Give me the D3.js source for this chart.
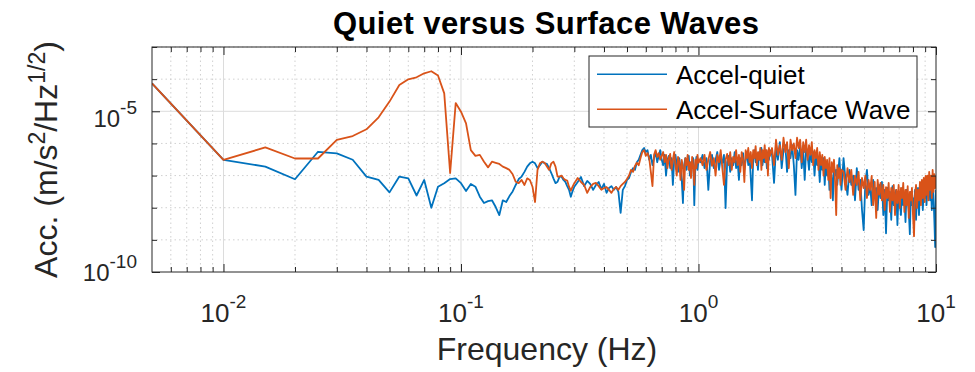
<!DOCTYPE html>
<html><head><meta charset="utf-8">
<script src="https://cdn.jsdelivr.net/npm/d3@7"></script>
<style>
body{margin:0;background:#fff}
svg{display:block}
text{font-family:"Liberation Sans",Arial,Helvetica,sans-serif}
</style>
</head><body>
<svg id="chart" width="975" height="372"></svg>
<script>
// ---------- data ----------
const title = "Quiet versus Surface Waves";
const xLabel = "Frequency (Hz)";
const seriesNames = ["Accel-quiet", "Accel-Surface Wave"];
const xTickValues = [0.01, 0.1, 1, 10];
const xTickExponents = ["-2", "-1", "0", "1"];
const yTickValues = [1e-10, 1e-5];
const yTickExponents = ["-10", "-5"];

const freqLow = [0.005,0.01,0.015,0.02,0.025,0.03,0.035,0.04,0.045,0.05,0.055,0.06,0.065,0.07,0.075,0.08,0.085,0.09,0.095,0.1,
0.105,0.11,0.115,0.12,0.125,0.13,0.135,0.14,0.145,0.15,0.155,0.16,0.165,0.17,0.175,0.18,0.185,0.19,0.195,0.2,
0.205,0.21,0.215,0.22,0.225,0.23,0.235,0.24,0.245,0.25,0.255,0.26,0.265,0.27,0.275,0.28,0.285,0.29,0.295,0.3];
const freqMid = [0.31,0.32,0.33,0.34,0.35,0.36,0.37,0.38,0.39,0.4,0.41,0.42,0.43,0.44,0.45,0.46,0.47,0.48,0.49,0.5,
0.51,0.52,0.53,0.54,0.55,0.56,0.57,0.58,0.59,0.6,0.61,0.62,0.63,0.64,0.65,0.66,0.67,0.68,0.69,0.7,
0.71,0.72,0.73,0.74,0.75,0.76,0.77,0.78,0.79,0.8,0.81,0.82,0.83,0.84,0.85,0.86,0.87,0.88,0.89,0.9,
0.91,0.92,0.93,0.94,0.95,0.96,0.97,0.98,0.99,1];
const freqHigh = [1.02,1.04,1.06,1.08,1.1,1.12,1.14,1.16,1.18,1.2,1.22,1.24,1.26,1.28,1.3,1.32,1.34,1.36,1.38,1.4,
1.42,1.44,1.46,1.48,1.5,1.52,1.54,1.56,1.58,1.6,1.62,1.64,1.66,1.68,1.7,1.72,1.74,1.76,1.78,1.8,
1.82,1.84,1.86,1.88,1.9,1.92,1.94,1.96,1.98,2,
2.04,2.08,2.12,2.16,2.2,2.24,2.28,2.32,2.36,2.4,2.44,2.48,2.52,2.56,2.6,2.64,2.68,2.72,2.76,2.8,
2.84,2.88,2.92,2.96,3,3.04,3.08,3.12,3.16,3.2,3.24,3.28,3.32,3.36,3.4,3.44,3.48,3.52,3.56,3.6,
3.64,3.68,3.72,3.76,3.8,3.84,3.88,3.92,3.96,4,
4.08,4.16,4.24,4.32,4.4,4.48,4.56,4.64,4.72,4.8,4.88,4.96,5.04,5.12,5.2,5.28,5.36,5.44,5.52,5.6,
5.68,5.76,5.84,5.92,6,6.08,6.16,6.24,6.32,6.4,6.48,6.56,6.64,6.72,6.8,6.88,6.96,7.04,7.12,7.2,
7.28,7.36,7.44,7.52,7.6,7.68,7.76,7.84,7.92,8,8.08,8.16,8.24,8.32,8.4,8.48,8.56,8.64,8.72,8.8,
8.88,8.96,9.04,9.12,9.2,9.28,9.36,9.44,9.52,9.6,9.68,9.76,9.84,9.92,10];

const quietLow = [7.4e-5,3.1e-7,1.9e-7,7.7e-8,5.5e-7,4.9e-7,3.1e-7,9.3e-8,7.3e-8,3.0e-8,
9.3e-8,8.2e-8,2.4e-8,7.3e-8,1.0e-8,4.5e-8,5.8e-8,7.8e-8,8.2e-8,5.8e-8,
3.3e-8,5.5e-8,4.5e-8,2.2e-8,1.4e-8,1.6e-8,1.7e-8,1.05e-8,5.9e-9,1.7e-8,
1.5e-8,2.3e-8,3.2e-8,5.1e-8,7.8e-8,9.3e-8,1.3e-7,1.9e-7,2.4e-7,2.7e-7,
2.4e-7,1.7e-7,2.1e-7,2.7e-7,2.4e-7,2.3e-7,1.7e-7,1.2e-7,8.2e-8,5.8e-8,
6.4e-8,9.3e-8,9.3e-8,7.3e-8,6.4e-8,4.7e-8,3.6e-8,2.2e-8,3.3e-8,4.5e-8];
const quietMid = [6.3e-8,9.0e-8,4.7e-8,6.8e-8,5.5e-8,3.6e-8,5.1e-8,6.3e-8,3.8e-8,5.5e-8,
2.9e-8,4.1e-8,4.7e-8,3.6e-8,4.4e-8,3.1e-8,6.9e-9,3.6e-8,4.7e-8,7.3e-8,
8.4e-8,1.3e-7,1.7e-7,1.5e-7,2.6e-7,3.1e-7,4.4e-7,6.2e-7,7.2e-7,5.4e-7,
6.2e-7,3.1e-7,4.4e-7,2.1e-7,3.5e-7,5.4e-7,2.6e-7,4.1e-7,6.2e-7,3.1e-7,
2.1e-7,4.4e-7,1.0e-7,3.1e-7,4.1e-7,1.7e-7,3.5e-7,5.1e-8,3.1e-7,4.4e-7,
2.1e-7,1.3e-7,3.5e-7,1.7e-7,7.3e-8,1.4e-8,2.1e-7,3.5e-7,1.5e-7,3.1e-7,
4.1e-7,1.0e-7,2.6e-7,1.7e-7,3.5e-7,1.2e-8,2.1e-7,3.8e-7,1.5e-7,3.1e-7];
const quietHigh = [2.6e-7,4.4e-7,1.7e-7,3.5e-7,3.6e-8,3.1e-7,4.4e-7,1.7e-7,3.1e-7,5.4e-7,
1.5e-7,3.5e-7,2.5e-7,4.4e-7,9.8e-9,2.6e-7,4.1e-7,1.3e-7,3.5e-7,2.1e-7,
5.4e-7,1.7e-7,3.1e-7,7.3e-8,3.5e-7,2.1e-7,5.0e-7,1.5e-7,3.1e-7,5.4e-7,
2.1e-7,4.4e-7,8.4e-8,1.7e-8,3.5e-7,6.2e-7,2.6e-7,4.4e-7,1.5e-7,5.4e-7,
3.1e-7,7.2e-7,2.1e-7,4.4e-7,2.6e-7,6.2e-7,1.7e-7,5.4e-7,3.1e-7,6.2e-7,
4.4e-7,5.9e-8,7.2e-7,3.1e-7,1.1e-6,1.7e-7,6.2e-7,8.9e-7,1.3e-7,6.2e-7,
3.5e-7,8.9e-7,2.1e-7,2.5e-8,6.2e-7,3.1e-7,8.9e-7,1.7e-7,6.2e-7,7.3e-8,
7.2e-7,4.4e-7,1.5e-7,6.2e-7,2.6e-7,5.4e-7,1.0e-7,4.4e-7,2.1e-7,3.5e-7,
6.3e-8,3.1e-7,1.5e-7,3.5e-7,5.1e-8,2.6e-7,1.0e-7,2.1e-7,3.6e-8,1.7e-7,
8.4e-8,1.7e-8,2.1e-7,1.0e-7,1.5e-7,5.1e-8,1.3e-7,3.5e-7,9.7e-8,3.6e-8,
3.5e-7,7.3e-8,2.5e-8,1.5e-7,5.1e-8,1.0e-7,1.7e-8,1.7e-7,3.6e-8,7.3e-8,
8.5e-9,2.0e-9,6.3e-8,1.5e-7,2.5e-8,5.1e-8,1.2e-8,7.3e-8,3.1e-8,4.1e-8,
8.5e-9,5.1e-8,2.0e-8,6.3e-8,5.9e-9,3.6e-8,1.6e-9,4.1e-8,1.7e-8,3.1e-8,
4.2e-9,4.7e-8,1.2e-8,2.5e-8,3.6e-8,2.9e-9,3.1e-8,1.7e-8,5.9e-9,4.1e-8,
1.2e-8,2.5e-8,3.6e-9,3.6e-8,1.7e-8,8.5e-9,1.5e-9,3.1e-8,1.2e-8,2.0e-8,
7.4e-9,3.6e-8,4.2e-9,2.3e-8,4.1e-8,5.9e-9,3.1e-8,1.7e-8,5.1e-8,8.5e-9,
3.6e-8,2.0e-8,5.9e-8,1.2e-8,4.1e-8,2.5e-8,7.3e-8,1.7e-8,5.1e-8,8.5e-9,
6.3e-8,2.3e-8,4.2e-9,6.0e-10,3.6e-8];

const surfaceLow = [7.4e-5,3.1e-7,7.5e-7,3.4e-7,3.4e-7,1.3e-6,1.7e-6,2.75e-6,6.5e-6,2.0e-5,
6.6e-5,9.9e-5,1.14e-4,1.52e-4,1.76e-4,1.3e-4,3.6e-5,1.2e-7,1.8e-5,9.7e-6,
4.2e-6,6.2e-7,4.1e-7,4.4e-7,2.7e-7,1.8e-7,2.7e-7,2.5e-7,2.3e-7,1.9e-7,
1.7e-7,1.5e-7,1.1e-7,6.4e-8,5.8e-8,7.3e-8,5.1e-8,8.2e-8,7.3e-8,4.5e-8,
1.5e-8,1.5e-7,2.4e-7,2.7e-7,2.5e-7,1.9e-7,1.5e-7,2.4e-7,2.7e-7,1.9e-7,
9.3e-8,9.3e-8,1.0e-7,8.2e-8,7.3e-8,7.0e-8,4.5e-8,3.4e-8,4.5e-8,5.8e-8];
const surfaceMid = [8.4e-8,6.3e-8,5.1e-8,2.9e-8,4.4e-8,5.5e-8,5.9e-8,4.7e-8,3.6e-8,4.1e-8,
4.4e-8,3.6e-8,2.9e-8,3.8e-8,4.4e-8,3.6e-8,4.7e-8,5.5e-8,6.3e-8,7.8e-8,
1.0e-7,1.5e-7,1.3e-7,2.0e-7,2.5e-7,2.1e-7,3.5e-7,5.4e-7,6.2e-7,4.1e-7,
5.0e-7,3.5e-7,1.3e-7,4.7e-8,4.4e-7,6.2e-7,3.8e-7,5.0e-7,3.1e-7,4.1e-7,
5.4e-7,2.6e-7,4.4e-7,1.7e-7,3.5e-7,4.7e-7,1.5e-7,3.1e-7,5.4e-7,2.1e-7,
1.0e-7,3.8e-7,2.5e-7,7.3e-8,3.1e-7,1.8e-7,3.6e-8,3.5e-7,2.1e-7,4.4e-7,
1.5e-7,2.6e-7,8.4e-8,3.8e-7,2.0e-7,5.1e-8,3.1e-7,1.7e-7,4.4e-7,2.5e-7];
const surfaceHigh = [3.5e-7,2.1e-7,4.4e-7,1.5e-7,3.1e-7,5.4e-7,2.0e-7,3.5e-7,1.0e-7,4.4e-7,
2.6e-7,6.2e-7,1.7e-7,5.1e-8,3.1e-7,4.7e-7,2.1e-7,5.4e-7,1.5e-7,3.8e-7,
2.6e-7,6.2e-7,2.1e-7,4.4e-7,1.3e-7,5.4e-7,3.1e-7,6.3e-8,6.2e-7,3.5e-7,
7.2e-7,2.6e-7,5.4e-7,1.7e-7,6.2e-7,3.5e-7,8.3e-7,2.1e-7,5.4e-7,3.1e-7,
7.2e-7,1.5e-7,6.2e-7,3.5e-7,8.9e-7,2.6e-7,6.2e-7,1.0e-7,7.2e-7,4.1e-7,
7.2e-7,2.1e-7,1.3e-6,4.4e-7,8.9e-7,3.1e-7,1.5e-6,5.4e-7,1.1e-6,1.7e-7,
1.3e-6,6.2e-7,1.0e-6,3.5e-7,1.5e-6,7.2e-7,1.3e-6,2.6e-7,1.1e-6,5.4e-7,
1.3e-6,3.1e-7,8.9e-7,4.4e-7,1.1e-6,2.1e-7,6.2e-7,3.5e-7,7.2e-7,1.5e-7,
5.4e-7,2.1e-7,4.4e-7,1.0e-7,3.8e-7,1.7e-7,3.1e-7,7.3e-8,3.5e-7,2.0e-8,
2.6e-7,1.3e-7,3.1e-7,6.3e-8,5.9e-9,2.1e-7,8.4e-8,1.7e-7,5.1e-8,1.5e-7,
1.3e-7,3.6e-8,1.7e-7,6.3e-8,1.5e-7,2.5e-8,1.0e-7,5.1e-8,1.3e-7,1.7e-8,
8.4e-8,4.1e-8,1.0e-7,2.0e-8,7.3e-8,3.6e-8,9.7e-8,1.2e-8,6.3e-8,4.8e-9,
7.3e-8,2.5e-8,5.9e-8,1.7e-8,5.1e-8,8.5e-9,4.4e-8,2.0e-8,5.9e-8,7.4e-9,
4.1e-8,1.7e-8,5.1e-8,5.9e-9,3.6e-8,1.4e-8,5.1e-8,9.8e-9,4.1e-8,2.0e-8,
5.9e-8,7.4e-9,3.6e-8,1.2e-8,4.7e-8,4.8e-9,3.1e-8,1.7e-8,4.1e-8,5.9e-9,
1.3e-9,2.5e-8,5.1e-8,9.8e-9,3.6e-8,1.7e-8,6.3e-8,1.2e-8,7.3e-8,2.0e-8,
8.4e-8,1.5e-8,9.7e-8,2.5e-8,1.0e-7,1.7e-8,1.3e-7,3.6e-8,1.0e-7,2.0e-8,
1.5e-7,3.1e-8,1.1e-7,4.1e-8,9.7e-8];

// ---------- build ----------
const freq = freqLow.concat(freqMid, freqHigh);
const quiet = quietLow.concat(quietMid, quietHigh);
const surface = surfaceLow.concat(surfaceMid, surfaceHigh);
const colors = ["#0072BD", "#D95319"];
const series = [
  {name: seriesNames[0], values: quiet, color: colors[0]},
  {name: seriesNames[1], values: surface, color: colors[1]}
];

const W = 975, H = 372;
const margin = {left: 152, right: 39, top: 47, bottom: 100};
const x0 = margin.left, x1 = W - margin.right, y0 = margin.top, y1 = H - margin.bottom;
const axisColor = "#262626";

const x = d3.scaleLog().domain([0.005, 10]).range([x0, x1]);
const y = d3.scaleLog().domain([1e-10, 1e-3]).range([y1, y0]);

const svg = d3.select("#chart");
svg.append("rect").attr("width", W).attr("height", H).attr("fill", "#fff");

const isDecade = v => Math.abs(Math.log10(v) - Math.round(Math.log10(v))) < 1e-9;
const xAll = x.ticks();
const xMajor = xTickValues;
const xMinor = xAll.filter(v => !isDecade(v) && v > 0.005 && v < 10);
const yDecades = y.ticks().filter(isDecade);
const yMinor = yDecades.filter(v => !yTickValues.some(t => Math.abs(Math.log10(t) - Math.log10(v)) < 1e-9));

// grid
const grid = svg.append("g");
grid.selectAll(".gxm").data(xMinor).join("line")
  .attr("x1", d => x(d)).attr("x2", d => x(d)).attr("y1", y0).attr("y2", y1)
  .attr("stroke", "#c4c4c4").attr("stroke-width", 0.8).attr("stroke-dasharray", "1.5,3");
grid.selectAll(".gym").data(yMinor).join("line")
  .attr("y1", d => y(d)).attr("y2", d => y(d)).attr("x1", x0).attr("x2", x1)
  .attr("stroke", "#c4c4c4").attr("stroke-width", 0.8).attr("stroke-dasharray", "1.5,3");
grid.selectAll(".gxM").data(xMajor.filter(v => v < 10)).join("line")
  .attr("x1", d => x(d)).attr("x2", d => x(d)).attr("y1", y0).attr("y2", y1)
  .attr("stroke", "#dcdcdc").attr("stroke-width", 1);
grid.selectAll(".gyM").data(yTickValues.filter(v => v > 1e-10)).join("line")
  .attr("y1", d => y(d)).attr("y2", d => y(d)).attr("x1", x0).attr("x2", x1)
  .attr("stroke", "#dcdcdc").attr("stroke-width", 1);

// clip + lines
svg.append("clipPath").attr("id", "clip").append("rect")
  .attr("x", x0).attr("y", y0).attr("width", x1 - x0).attr("height", y1 - y0);
const line = d3.line().x((d, i) => x(freq[i])).y(d => y(d));
const n = Math.min(freq.length, quiet.length, surface.length);
svg.append("g").attr("clip-path", "url(#clip)")
  .selectAll("path").data(series).join("path")
  .attr("d", s => line(s.values.slice(0, n)))
  .attr("fill", "none").attr("stroke", s => s.color)
  .attr("stroke-width", 1.8).attr("stroke-linejoin", "round");

// axes with inward ticks
const tickMajor = 8, tickMinor = 5;
function styleAxis(g) {
  g.select(".domain").remove();
  g.selectAll(".tick line").attr("stroke", axisColor).attr("stroke-width", 1);
  g.selectAll(".tick text").remove();
}
svg.append("g").attr("transform", `translate(0,${y1})`)
  .call(d3.axisBottom(x).tickValues(xMajor).tickSize(-tickMajor)).call(styleAxis);
svg.append("g").attr("transform", `translate(0,${y1})`)
  .call(d3.axisBottom(x).tickValues(xMinor).tickSize(-tickMinor)).call(styleAxis);
svg.append("g").attr("transform", `translate(0,${y0})`)
  .call(d3.axisTop(x).tickValues(xMajor).tickSize(-tickMajor)).call(styleAxis);
svg.append("g").attr("transform", `translate(0,${y0})`)
  .call(d3.axisTop(x).tickValues(xMinor).tickSize(-tickMinor)).call(styleAxis);
svg.append("g").attr("transform", `translate(${x0},0)`)
  .call(d3.axisLeft(y).tickValues(yTickValues).tickSize(-tickMajor)).call(styleAxis);
svg.append("g").attr("transform", `translate(${x0},0)`)
  .call(d3.axisLeft(y).tickValues(yMinor).tickSize(-tickMinor)).call(styleAxis);
svg.append("g").attr("transform", `translate(${x1},0)`)
  .call(d3.axisRight(y).tickValues(yTickValues).tickSize(-tickMajor)).call(styleAxis);
svg.append("g").attr("transform", `translate(${x1},0)`)
  .call(d3.axisRight(y).tickValues(yMinor).tickSize(-tickMinor)).call(styleAxis);

// box
svg.append("rect").attr("x", x0).attr("y", y0).attr("width", x1 - x0).attr("height", y1 - y0)
  .attr("fill", "none").attr("stroke", axisColor).attr("stroke-width", 1);

// x tick labels
xTickValues.forEach((v, i) => {
  const t = svg.append("text").attr("x", x(v)).attr("y", y1 + 50)
    .attr("text-anchor", "middle").attr("fill", axisColor).attr("font-size", 26);
  t.append("tspan").text("10");
  t.append("tspan").attr("dy", -14).attr("font-size", 19).text(xTickExponents[i]);
});
// y tick labels
yTickValues.forEach((v, i) => {
  const t = svg.append("text").attr("x", x0 - 15).attr("y", Math.min(y(v) + 16, y1 + 9))
    .attr("text-anchor", "end").attr("fill", axisColor).attr("font-size", 24);
  t.append("tspan").text("10");
  t.append("tspan").attr("dy", -13).attr("font-size", 19).text(yTickExponents[i]);
});

// title
svg.append("text").attr("x", (x0 + x1) / 2 + 2).attr("y", 34).attr("text-anchor", "middle")
  .attr("font-size", 31).attr("font-weight", "bold").attr("fill", "#000")
  .attr("textLength", 426).attr("lengthAdjust", "spacing").text(title);
// x label
svg.append("text").attr("x", (x0 + x1) / 2 + 3).attr("y", 360).attr("text-anchor", "middle")
  .attr("font-size", 32).attr("fill", axisColor).text(xLabel);
// y label
const yl = svg.append("text").attr("transform", `translate(57,${(y0 + y1) / 2}) rotate(-90)`)
  .attr("text-anchor", "middle").attr("font-size", 32).attr("fill", axisColor);
yl.append("tspan").text("Acc. (m/s");
yl.append("tspan").attr("dy", -12).attr("font-size", 23).text("2");
yl.append("tspan").attr("dy", 12).text("/Hz");
yl.append("tspan").attr("dy", -12).attr("font-size", 23).text("1/2");
yl.append("tspan").attr("dy", 12).text(")");

// legend
const lg = svg.append("g");
lg.append("rect").attr("x", 589).attr("y", 56).attr("width", 328).attr("height", 71)
  .attr("fill", "#fff").attr("stroke", axisColor).attr("stroke-width", 1);
series.forEach((s, i) => {
  const ly = 74.3 + i * 35;
  lg.append("line").attr("x1", 597).attr("x2", 667).attr("y1", ly).attr("y2", ly)
    .attr("stroke", s.color).attr("stroke-width", 1.5);
  lg.append("text").attr("x", 676).attr("y", ly + 10).attr("font-size", 26)
    .attr("fill", "#000").text(s.name);
});
</script>
</body></html>
